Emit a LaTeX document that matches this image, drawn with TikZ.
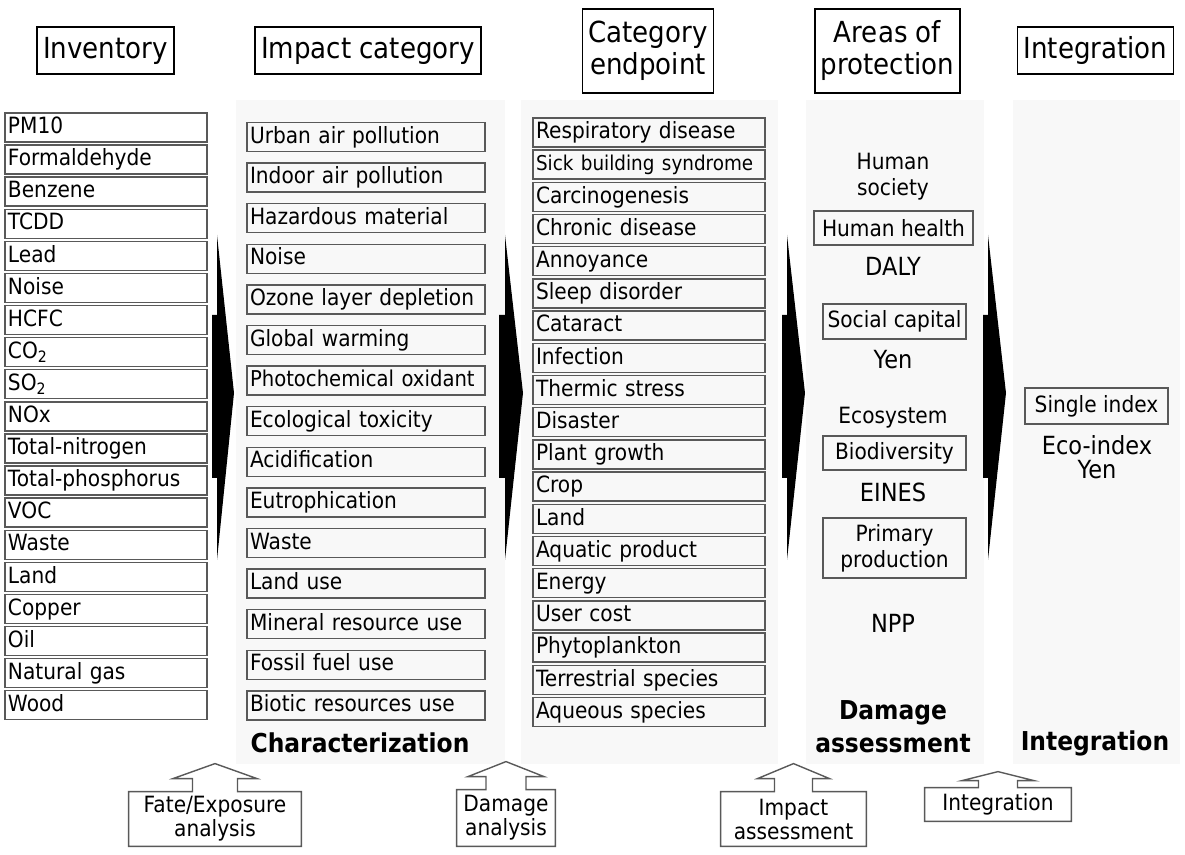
\documentclass[tikz,border=0pt]{standalone}
\usepackage{fontspec}
\setmainfont{DejaVu Sans}[FakeStretch=0.9]
\usetikzlibrary{calc}

\definecolor{framegray}{gray}{0.35}
\definecolor{colshade}{gray}{0.972}

\begin{document}
\begin{tikzpicture}[
        x=0.5pt, y=-0.5pt,
        header/.style={rectangle, draw, line width=0.8pt, align=center, inner xsep=3pt, minimum height=23.5pt, font=\fontsize{14.5}{16}\selectfont},
        item/.style={rectangle, draw=framegray, line width=0.7pt, text width=#1, align=left, inner xsep=1.5pt, inner ysep=0pt, text height=8.6pt, text depth=2.4pt, minimum height=14.5pt, font=\fontsize{11.2}{13}\selectfont},
        area/.style={rectangle, draw=framegray, line width=0.7pt, align=center, inner sep=0pt, minimum width=71.5pt, minimum height=17.5pt, font=\fontsize{11.2}{13}\selectfont},
        note/.style={align=center, inner sep=0pt, font=\fontsize{11.2}{13}\selectfont},
        unit/.style={align=center, inner sep=0pt, font=\fontsize{12.5}{12}\selectfont},
        stage/.style={align=center, inner sep=0pt, font=\fontsize{13}{16.5}\selectfont\bfseries},
        method/.style={align=center, inner sep=0pt, font=\fontsize{11.2}{12}\selectfont},
        outline/.style={draw=framegray, line width=0.7pt}
    ]
        \useasboundingbox (0,0) rectangle (1185,855);

        % 0. Column shading
        \fill[colshade] (236,100) rectangle (505,764);
        \fill[colshade] (521,100) rectangle (778,764);
        \fill[colshade] (806,100) rectangle (984,764);
        \fill[colshade] (1013,100) rectangle (1180,764);

        % 1. Column headers
        \node (inventory) [header] at (105.5,50.5) {Inventory};
        \node (impact) [header] at (368,50.5) {Impact category};
        \node (endpoint) [header, minimum height=42pt] at (648,51) {Category\\endpoint};
        \node (protection) [header, minimum height=42pt] at (887.5,51) {Areas of\\protection};
        \node (integration) [header] at (1095.5,50.5) {Integration};

        % 2. Inventory list
        \foreach \name [count=\i] in {PM10, Formaldehyde, Benzene, TCDD, Lead, Noise, HCFC, CO\textsubscript{2}, SO\textsubscript{2}, NOx, Total-nitrogen, Total-phosphorus, VOC, Waste, Land, Copper, Oil, Natural gas, Wood}
            \node (inv\i) [item=98pt] at (106,{127.5+32.1*(\i-1)}) {\name};

        % 3. Impact categories
        \foreach \name [count=\i] in {Urban air pollution, Indoor air pollution, Hazardous material, Noise, Ozone layer depletion, Global warming, {\fontsize{10.9}{13}\selectfont Photochemical oxidant}, Ecological toxicity, Acidification, Eutrophication, Waste, Land use, Mineral resource use, Fossil fuel use, Biotic resources use}
            \node (cat\i) [item=116pt] at (366,{137+40.6*(\i-1)}) {\name};

        % 4. Category endpoints
        \foreach \name [count=\i] in {Respiratory disease, {\fontsize{10.2}{13}\selectfont Sick building syndrome}, Carcinogenesis, Chronic disease, Annoyance, Sleep disorder, Cataract, Infection, Thermic stress, Disaster, Plant growth, Crop, Land, Aquatic product, Energy, User cost, Phytoplankton, Terrestrial species, Aqueous species}
            \node (end\i) [item=113pt] at (649,{132.5+32.2*(\i-1)}) {\name};

        % 5. Areas of protection
        \node (society) [note] at (893,177) {Human\\society};
        \node (health) [area, minimum width=79.5pt, minimum height=17pt] at (893.5,228) {Human health};
        \node (daly) [unit] at (893,266) {DALY};
        \node (social) [area] at (894.5,321.5) {Social capital};
        \node (yen) [unit] at (893,360) {Yen};
        \node (ecosystem) [note] at (893,418) {Ecosystem};
        \node (biodiv) [area, minimum height=17pt] at (894.5,453) {Biodiversity};
        \node (eines) [unit] at (893,492) {EINES};
        \node (primary) [area, minimum height=30pt] at (894.5,548) {Primary\\production};
        \node (npp) [unit] at (893,623) {NPP};

        % 6. Integration
        \node (single) [area, minimum height=18pt] at (1096.5,406) {Single index};
        \node (ecoindex) [unit] at (1097,457) {Eco-index\\Yen};

        % 7. Stage names
        \node (charact) [stage] at (360,743) {Characterization};
        \node (damage) [stage] at (893,726.5) {Damage\\assessment};
        \node (integ) [stage] at (1095,743) {Integration};

        % 8. Big arrows between columns
        \foreach \a/\t/\w in {217/17/5, 505/18/6, 787/18/5, 988/18/5}
            \fill (\a,235) -- ({\a+\t},393) -- (\a,560) -- (\a,478) -- ({\a-\w},478) -- ({\a-\w},315) -- (\a,315) -- cycle;

        % 9. Methods with upward arrows
        \node (fate) [method, minimum width=86pt, minimum height=27pt] at (215,819) {Fate/Exposure\\analysis};
        \node (dmgan) [method, minimum width=49pt, minimum height=28pt] at (506,818) {Damage\\analysis};
        \node (impas) [method, minimum width=72.5pt, minimum height=27pt] at (793.5,819) {Impact\\assessment};
        \node (intmeth) [method, minimum width=73pt, minimum height=16.5pt] at (998,804.5) {Integration};

        \foreach \m/\s/\h/\b/\t in {fate/22.5/42/13/28, dmgan/20/38/13/28, impas/19/36/13/28, intmeth/19.5/36/7/16}
            \draw [outline] (\m.north west) -- ($(\m.north)+(-\s,0)$) -- ++(0,-\b)
                -- ($(\m.north)+(-\h,-\b)$) -- ($(\m.north)+(0,-\t)$) -- ($(\m.north)+(\h,-\b)$)
                -- ($(\m.north)+(\s,-\b)$) -- ++(0,\b) -- (\m.north east)
                -- (\m.south east) -- (\m.south west) -- cycle;
    \end{tikzpicture}
\end{document}
